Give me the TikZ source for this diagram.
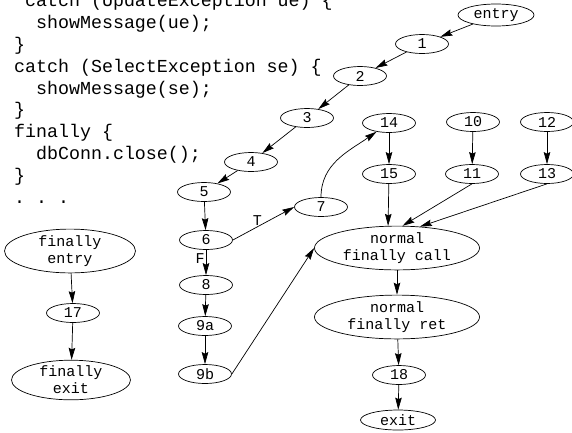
\documentclass[tikz,border=0pt]{standalone}
\usepackage{fontspec}
\setmonofont{Liberation Mono}
\usetikzlibrary{shapes.geometric,arrows.meta,positioning}

\begin{document}
\begin{tikzpicture}[x=1pt,y=-1pt,
    blk/.style={ellipse,draw,line width=0.7pt,inner sep=0pt,minimum width=53pt,minimum height=19pt,
      font=\fontsize{15}{17}\selectfont\ttfamily,align=center},
    wide/.style={blk,minimum width=165pt,minimum height=40pt},
    code/.style={inner sep=0pt,align=left,font=\fontsize{18.3}{21.8}\selectfont\ttfamily},
    lbl/.style={font=\fontsize{15}{17}\selectfont\ttfamily,inner sep=1pt},
    every edge/.style={draw,line width=0.7pt,-{Stealth[length=12pt,width=6.5pt,inset=1.5pt]}}]
    \useasboundingbox (0,0) rectangle (572,432);

    % source excerpt
    \node[code,anchor=base west] (src) at (14,203)
    {\hphantom{x}catch (UpdateException ue) \{\\
     \hphantom{xx}showMessage(ue);\\
     \}\\
     catch (SelectException se) \{\\
     \hphantom{xx}showMessage(se);\\
     \}\\
     finally \{\\
     \hphantom{xx}dbConn.close();\\
     \}\\
     .\ .\ .};

    % try block
    \node[blk,minimum width=76pt,minimum height=22pt] (q_entry) at (496,15) {entry};
    \node[blk] (q_1) at (422,44) {1};
    \node[blk] (q_2) at (360,76) {2};
    \node[blk] (q_3) at (307,118) {3};
    \node[blk] (q_4) at (251,162) {4};
    \node[blk] (q_5) at (204,192) {5};
    \node[blk] (q_6) at (206,240) {6};
    \node[blk] (q_7) at (321,207) {7};
    \node[blk] (q_8) at (206,285) {8};
    \node[blk] (q_9a) at (205,326) {9a};
    \node[blk] (q_9b) at (205,374) {9b};
    \node[blk] (q_14) at (389,123) {14};
    \node[blk] (q_15) at (389,174) {15};
    \node[blk] (q_10) at (473,122) {10};
    \node[blk] (q_11) at (472,174) {11};
    \node[blk] (q_12) at (547,122) {12};
    \node[blk] (q_13) at (547,174) {13};
    \node[wide] (q_call) at (397,248) {normal\\finally call};
    \node[wide] (q_ret) at (397,317) {normal\\finally ret};
    \node[blk] (q_18) at (399,375) {18};
    \node[blk,minimum width=75pt,minimum height=20pt] (q_exit) at (398,420) {exit};

    % finally block
    \node[blk,minimum width=131pt,minimum height=36pt] (f_entry) at (70,251) {finally\\entry};
    \node[blk] (q_17) at (73,313) {17};
    \node[blk,minimum width=119pt,minimum height=34pt] (f_exit) at (71,380) {finally\\exit};

    \path
    (q_entry) edge (q_1)
    (q_1) edge (q_2)
    (q_2) edge (q_3)
    (q_3) edge (q_4)
    (q_4) edge (q_5)
    (q_5) edge (q_6)
    (q_6.east) edge node[lbl,above,pos=0.4] {T} (q_7.west)
    (q_6) edge node[lbl,left,pos=0.35] {F} (q_8)
    (q_8) edge (q_9a)
    (q_9a) edge (q_9b)
    (q_9b.east) edge (q_call.west)
    (q_7) edge[out=90,in=215] (q_14)
    (q_14) edge (q_15)
    (q_10) edge (q_11)
    (q_12) edge (q_13)
    (q_15) edge (q_call.112)
    (q_11.south) edge (q_call.76)
    (q_13.south) edge (q_call.43)
    (q_call) edge (q_ret)
    (q_ret) edge (q_18)
    (q_18) edge (q_exit)
    (f_entry) edge (q_17)
    (q_17) edge (f_exit);
\end{tikzpicture}
\end{document}
